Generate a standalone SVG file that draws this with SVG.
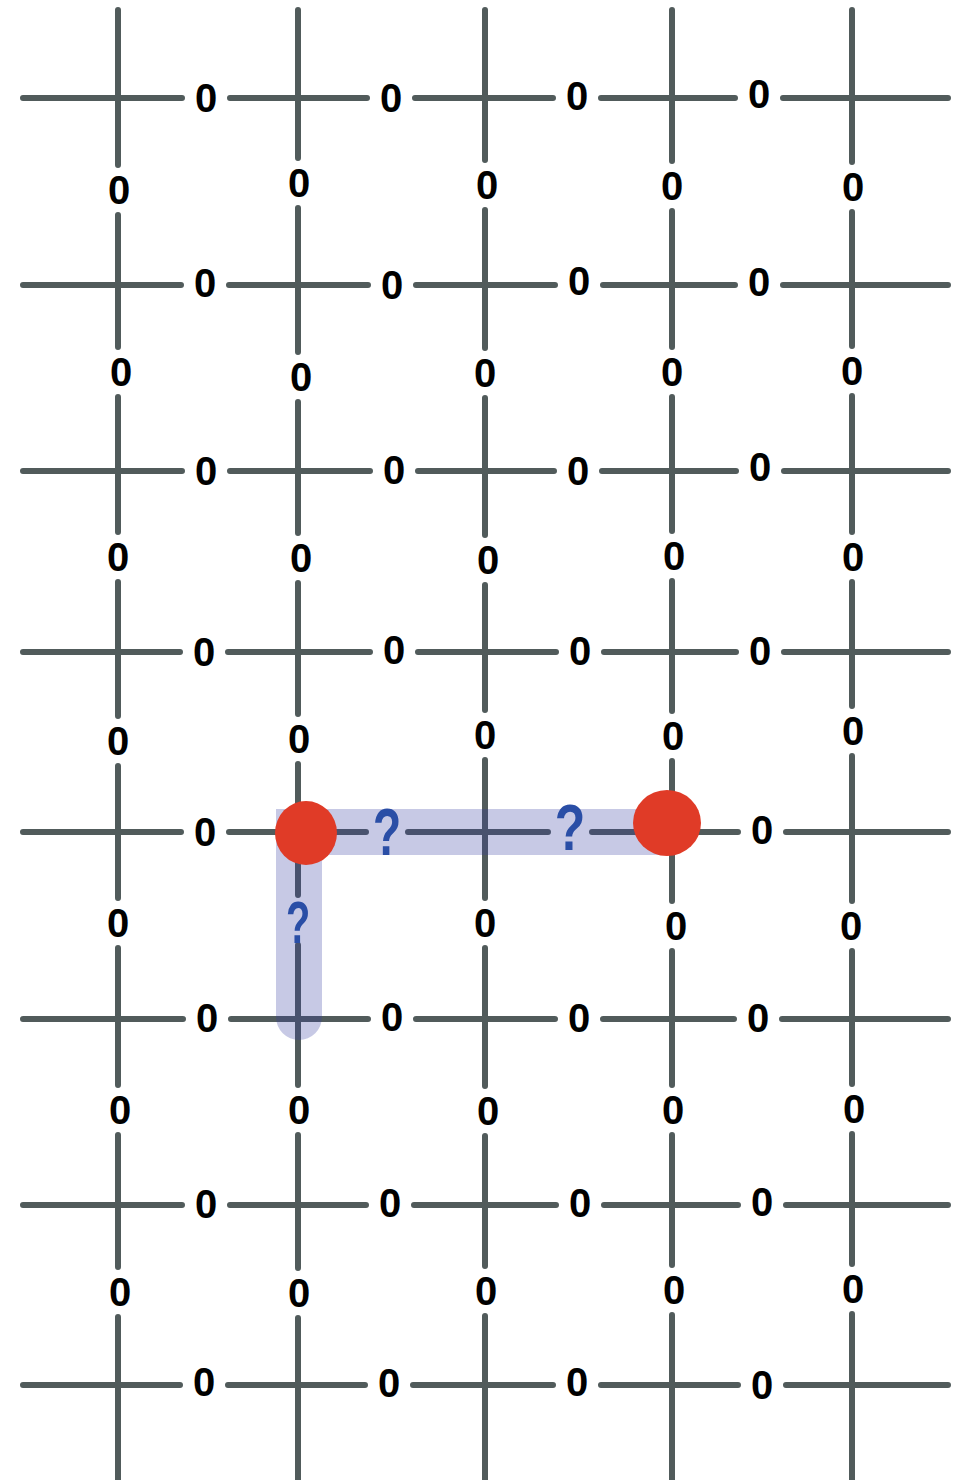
<svg xmlns="http://www.w3.org/2000/svg" width="954" height="1480" viewBox="0 0 954 1480">
<style>
.grid{fill:none;stroke:#515b5b;stroke-width:6;stroke-linecap:round}
.band{fill:none;stroke:#353ea2;stroke-opacity:0.28;stroke-width:46;stroke-linecap:round;stroke-linejoin:miter}
.dot{fill:#e03b27}
.z{font-family:"Liberation Sans",Arial,sans-serif;font-weight:bold;font-size:40px;fill:#000;text-anchor:middle}
.q{font-family:"Liberation Sans",Arial,sans-serif;font-weight:bold;font-size:64px;fill:#2a4ea6;text-anchor:middle}
</style>
<rect width="954" height="1480" fill="#fff"/>
<g id="connectors" class="grid">
<path d="M23 98H182M230 98H367M415 98H553M601 98H735M783 98H948"/>
<path d="M23 285H181M229 285H368M416 285H555M603 285H735M783 285H948"/>
<path d="M23 471H182M230 471H370M418 471H554M602 471H736M784 471H948"/>
<path d="M23 652H180M228 652H370M418 652H556M604 652H736M784 652H948"/>
<path d="M23 832H181M229 832H366M408 832H548M592 832H738M786 832H948"/>
<path d="M23 1019H183M231 1019H368M416 1019H555M603 1019H734M782 1019H948"/>
<path d="M23 1205H182M230 1205H366M414 1205H556M604 1205H738M786 1205H948"/>
<path d="M23 1385H180M228 1385H365M413 1385H553M601 1385H738M786 1385H948"/>
<path d="M118 10V165M118 215V347M118 397V532M118 582V716M118 766V898M118 948V1085M118 1135V1267M118 1317V1480"/>
<path d="M298 10V158M298 208V352M298 402V533M298 583V714M298 764V895M298 945V1085M298 1135V1268M298 1318V1480"/>
<path d="M485 10V160M485 210V348M485 398V535M485 585V710M485 760V898M485 948V1086M485 1136V1266M485 1316V1480"/>
<path d="M672 10V161M672 211V347M672 397V531M672 581V711M672 761V901M672 951V1085M672 1135V1265M672 1315V1480"/>
<path d="M852 10V162M852 212V346M852 396V532M852 582V706M852 756V901M852 951V1084M852 1134V1264M852 1314V1480"/>
</g>
<g id="path-highlight">
<path class="band" d="M668 832H299V1017"/>
</g>
<g id="node-start"><ellipse class="dot" cx="306" cy="833" rx="31" ry="32"/></g>
<g id="node-end"><ellipse class="dot" cx="667" cy="823" rx="34" ry="33"/></g>
<g id="unknown-labels">
<text class="q" transform="translate(387 855) scale(0.72 1.05)">?</text>
<text class="q" transform="translate(570 850) scale(0.78 1)">?</text>
<text class="q" transform="translate(298 943) scale(0.62 0.92)">?</text>
</g>
<g id="edge-labels" class="z">
<text x="206" y="112">0</text><text x="391" y="112">0</text><text x="577" y="110">0</text><text x="759" y="108">0</text>
<text x="205" y="297">0</text><text x="392" y="299">0</text><text x="579" y="295">0</text><text x="759" y="296">0</text>
<text x="206" y="485">0</text><text x="394" y="484">0</text><text x="578" y="485">0</text><text x="760" y="481">0</text>
<text x="204" y="666">0</text><text x="394" y="664">0</text><text x="580" y="665">0</text><text x="760" y="665">0</text>
<text x="205" y="846">0</text><text x="762" y="844">0</text>
<text x="207" y="1032">0</text><text x="392" y="1031">0</text><text x="579" y="1032">0</text><text x="758" y="1032">0</text>
<text x="206" y="1218">0</text><text x="390" y="1217">0</text><text x="580" y="1217">0</text><text x="762" y="1216">0</text>
<text x="204" y="1396">0</text><text x="389" y="1397">0</text><text x="577" y="1396">0</text><text x="762" y="1399">0</text>
<text x="119" y="204">0</text><text x="299" y="197">0</text><text x="487" y="199">0</text><text x="672" y="200">0</text><text x="853" y="201">0</text>
<text x="121" y="386">0</text><text x="301" y="391">0</text><text x="485" y="387">0</text><text x="672" y="386">0</text><text x="852" y="385">0</text>
<text x="118" y="571">0</text><text x="301" y="572">0</text><text x="488" y="574">0</text><text x="674" y="570">0</text><text x="853" y="571">0</text>
<text x="118" y="755">0</text><text x="299" y="753">0</text><text x="485" y="749">0</text><text x="673" y="750">0</text><text x="853" y="745">0</text>
<text x="118" y="937">0</text><text x="485" y="937">0</text><text x="676" y="940">0</text><text x="851" y="940">0</text>
<text x="120" y="1124">0</text><text x="299" y="1124">0</text><text x="488" y="1125">0</text><text x="673" y="1124">0</text><text x="854" y="1123">0</text>
<text x="120" y="1306">0</text><text x="299" y="1307">0</text><text x="486" y="1305">0</text><text x="674" y="1304">0</text><text x="853" y="1303">0</text>
</g>
</svg>
